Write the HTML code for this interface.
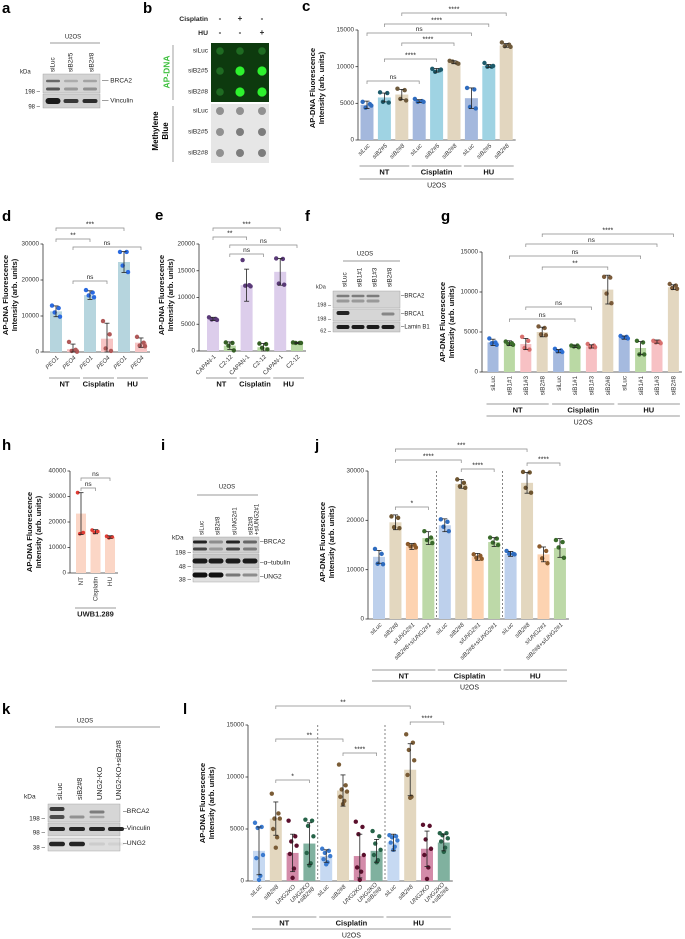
<!DOCTYPE html>
<html><head><meta charset="utf-8"><style>
html,body{margin:0;padding:0;background:#fff;}
svg{display:block;font-family:"Liberation Sans",Arial,sans-serif;}
</style></head><body>
<svg id="fig" width="685" height="939" viewBox="0 0 685 939" xmlns="http://www.w3.org/2000/svg"></svg>
<script>
// ---------- DATA ----------
const cCats=["siLuc","siB2#5","siB2#8","siLuc","siB2#5","siB2#8","siLuc","siB2#5","siB2#8"];
const cMeans=[4800,5800,6200,5300,9500,10600,5700,10100,12900];
const cSds=[500,600,700,200,250,200,1400,200,250];
const cDots=[[5200,4900,4400,4700],[6500,6400,5200,5100],[7000,6800,5600,5400],[5600,5300,5200,5200],[9700,9500,9300,9600],[10800,10500,10700,10400],[7100,6900,4500,4300],[10500,10000,10000,10100],[13300,13000,12800,12700]];
const cTicks=[0,5000,10000,15000];
const cSig=[[0,3,"ns"],[1,4,"****"],[2,5,"****"],[0,6,"ns"],[1,7,"****"],[2,8,"****"]];

const dCats=["PEO1","PEO4","PEO1","PEO4","PEO1","PEO4"];
const dMeans=[11300,800,15800,3700,25000,2600];
const dSds=[1500,1400,1200,4300,2900,1300];
const dDots=[[12900,12200,11000,9800],[2800,600,300,100],[17200,16500,15700,15200],[8600,4900,1000,300],[27800,27800,24000,22200],[4200,2600,1800,1600]];
const dTicks=[0,10000,20000,30000];
const dSig=[[0,4,"***"],[0,2,"**"],[1,5,"ns"],[1,3,"ns"]];

const eCats=["CAPAN-1","C2-12","CAPAN-1","C2-12","CAPAN-1","C2-12"];
const eMeans=[6000,1000,12300,700,14800,1500];
const eSds=[300,700,3000,700,2500,100];
const eDots=[[6300,6000,5900,5800],[1600,1500,1000,100],[17000,12300,12200,12100],[1400,1300,600,300],[17300,17200,12600,12400],[1600,1500,1500,1500]];
const eTicks=[0,5000,10000,15000,20000];
const eSig=[[0,4,"***"],[0,2,"**"],[1,5,"ns"],[1,3,"ns"]];

const gCats=["siLuc","siB1#1","siB1#3","siB2#8","siLuc","siB1#1","siB1#3","siB2#8","siLuc","siB1#1","siB1#3","siB2#8"];
const gMeans=[3700,3600,3500,5000,2600,3200,3200,10300,4300,3000,3800,10600];
const gSds=[400,300,700,600,200,150,200,1800,200,800,200,300];
const gDots=[[4200,3700,3600,3400],[3800,3600,3500,3400],[4400,3900,3000,2800],[5700,5500,4700,4600],[2900,2700,2600,2500],[3300,3300,3200,3100],[3500,3300,3100,3100],[11900,11800,9800,8600],[4500,4400,4300,4200],[3900,3700,2200,2200],[3900,3800,3700,3600],[11000,10800,10500,10400]];
const gTicks=[0,5000,10000,15000];
const gSig=[[3,11,"****"],[2,10,"ns"],[1,9,"ns"],[3,7,"**"],[2,6,"ns"],[1,5,"ns"]];

const hCats=["NT","Cisplatin","HU"];
const hMeans=[23300,16200,14100];
const hSds=[8200,800,500];
const hDots=[[31500,15800,15400],[16800,16300,15900],[14400,14100,13800]];
const hTicks=[0,10000,20000,30000,40000];
const hSig=[[0,2,"ns"],[0,1,"ns"]];

const jCats=["siLuc","siB2#8","siUNG2#1","siB2#8+siUNG2#1","siLuc","siB2#8","siUNG2#1","siB2#8+siUNG2#1","siLuc","siB2#8","siUNG2#1","siB2#8+siUNG2#1"];
const jMeans=[12600,19600,14700,16400,19000,27400,12600,15600,13200,27600,13100,14400];
const jSds=[1300,1500,600,1300,1300,900,700,900,500,2100,1500,1900];
const jDots=[[14200,13200,11200,11100],[20800,20500,18600,18400],[15200,15000,14700,14500],[17800,16500,16000,15400],[20200,19700,18700,17800],[28300,27600,26900,26600],[13100,12800,12400,12200],[16500,16300,15500,15000],[13800,13200,13200,13100],[29800,29700,26600,25600],[14700,13800,12300,11300],[16000,15600,14500,12400]];
const jTicks=[0,10000,20000,30000];
const jSig=[[1,9,"***"],[1,5,"****"],[5,7,"****"],[9,11,"****"],[1,3,"*"]];

const lCats=["siLuc","siB2#8","UNG2KO","UNG2KO|+siB2#8","siLuc","siB2#8","UNG2KO","UNG2KO|+siB2#8","siLuc","siB2#8","UNG2KO","UNG2KO|+siB2#8"];
const lMeans=[2900,6000,2700,3600,2400,8700,2400,2900,3700,10700,3100,3700];
const lSds=[2300,1600,1800,2000,600,1500,2100,1100,800,2500,1700,800];
const lDots=[[5600,5200,5100,2500,2200,500,100],[8400,6500,6000,6000,5000,4200,3200],[5800,4300,3800,3400,2600,1200,300],[5900,5800,5300,4300,2700,1700,1500],[3100,2900,2700,2400,2100,1800,1600],[11200,9200,8800,8600,8100,7700,7400],[5700,5200,4500,2500,1300,900,100],[4800,4300,3600,3000,2500,2000,1800],[4400,4300,4200,3900,3700,3300,3000],[14100,13300,12600,11600,10200,8100,8000],[5400,5300,4000,3100,2500,1300,200],[4600,4600,4400,4100,3800,3200,2800]];
const lTicks=[0,5000,10000,15000];
const lSig=[[1,9,"**"],[1,5,"**"],[5,7,"****"],[9,11,"****"],[1,3,"*"]];

// ---------- HELPERS ----------
const NS="http://www.w3.org/2000/svg";
const fig=document.getElementById('fig');
function mk(tag,attrs,name,parent){
  const el=document.createElementNS(NS,tag);
  for(const k in attrs) el.setAttribute(k,attrs[k]);
  
  
  (parent||fig).appendChild(el);
  return el;
}
function tx(x,y,s,name,o){
  o=o||{};
  const el=mk('text',{x:x,y:y,'font-size':o.fs||6.5,'text-anchor':o.anchor||'start','fill':o.fill||'#222','font-weight':o.bold?'bold':'normal','font-style':o.it?'italic':'normal','dominant-baseline':'middle'},name,o.parent);
  if(o.rot!==undefined) el.setAttribute('transform','rotate('+o.rot+' '+x+' '+y+')');
  el.textContent=s;
  return el;
}
function ln(x1,y1,x2,y2,name,o){
  o=o||{};
  return mk('line',{x1:x1,y1:y1,x2:x2,y2:y2,stroke:o.c||'#333','stroke-width':o.w||0.8,'stroke-dasharray':o.dash||'none'},name,o.parent);
}
function letter(x,y,s){ tx(x,y,s,'panel-label-'+s,{fs:15,bold:true,fill:'#000'}); }

const jit=[-3,2,-1,3,-2,1,0];
function chart(id,L,cats,means,sds,dots,ticks,sig,sigY,barCols,dotCols){
  const g=mk('g',{},'chart-'+id);
  const sy=v=>L.y0-(v/L.max)*(L.y0-L.yTop);
  const sx=i=>L.x0+i*L.step;
  const n=means.length;
  ln(L.ax,L.yTop,L.ax,L.y0,'y-axis-'+id,{parent:g});
  ln(L.ax,L.y0,sx(n-1)+L.bw/2+3,L.y0,'x-axis-'+id,{parent:g});
  ticks.forEach(t=>{
    ln(L.ax-2.5,sy(t),L.ax,sy(t),'y-tick-'+id,{parent:g});
    tx(L.ax-4,sy(t),String(t),'y-tick-label-'+id,{anchor:'end',fs:6.3,parent:g,fill:'#333'});
  });
  (L.dash||[]).forEach(k=>{
    const xx=(sx(k-1)+sx(k))/2;
    ln(xx,L.yTop,xx,L.y0,'group-separator-'+id,{dash:'2,2',w:0.6,parent:g});
  });
  means.forEach((m,i)=>{
    const c=i%barCols.length;
    mk('rect',{x:sx(i)-L.bw/2,y:sy(m),width:L.bw,height:L.y0-sy(m),fill:barCols[c]},'bar-'+id+'-'+i,g);
  });
  dots.forEach((arr,i)=>{
    const c=i%dotCols.length;
    arr.forEach((v,k)=>{
      mk('circle',{cx:sx(i)+jit[k%jit.length]*(L.bw/9),cy:sy(v),r:L.r||2.2,fill:dotCols[c]},'point-'+id+'-'+i,g);
    });
  });
  means.forEach((m,i)=>{
    const lo=Math.max(0,m-sds[i]),hi=m+sds[i];
    ln(sx(i),sy(hi),sx(i),sy(lo),'error-bar-'+id,{parent:g,c:'#222',w:0.8});
    ln(sx(i)-2.5,sy(hi),sx(i)+2.5,sy(hi),'error-cap-'+id,{parent:g,c:'#222',w:0.8});
    ln(sx(i)-2.5,sy(lo),sx(i)+2.5,sy(lo),'error-cap-'+id,{parent:g,c:'#222',w:0.8});
  });
  cats.forEach((s,i)=>{
    const parts=s.split('|');
    if(L.rot===-90){
      tx(sx(i)+0.5,L.y0+4,parts[0],'x-label-'+id,{anchor:'end',rot:-90,fs:6.3,parent:g,fill:'#333'});
    } else {
      const off=parts.length>1?-2.2:0;
      parts.forEach((p,k)=>{
        const x=sx(i)+2+off+k*4.4,y=L.y0+5+off+k*4.4;
        tx(x,y,p,'x-label-'+id,{anchor:'end',rot:-45,fs:6,it:L.it,parent:g,fill:'#333'});
      });
    }
  });
  sig.forEach((s,k)=>{
    const x1=sx(s[0]),x2=sx(s[1]),y=sigY[k];
    mk('path',{d:'M'+x1+' '+(y+3)+'V'+y+'H'+x2+'V'+(y+3),fill:'none',stroke:'#888','stroke-width':0.7},'significance-bracket-'+id,g);
    tx((x1+x2)/2,y-3.5,s[2],'significance-label-'+id,{anchor:'middle',fs:s[2]=='ns'?6.5:7,parent:g,fill:'#222'});
  });
  (L.groups||[]).forEach(gr=>{
    const x1=sx(gr[0])-L.bw/2-1,x2=sx(gr[1])+L.bw/2+1;
    ln(x1,L.gy,x2,L.gy,'group-line-'+id,{c:'#999',w:0.9,parent:g});
    tx((x1+x2)/2,L.gy+6.5,gr[2],'group-label-'+id,{anchor:'middle',fs:7.5,bold:true,parent:g,fill:'#111'});
  });
  if(L.cell){
    const x1=sx(0)-L.bw/2-1,x2=sx(n-1)+L.bw/2+1;
    ln(x1,L.cy,x2,L.cy,'cell-line-'+id,{c:'#999',w:0.9,parent:g});
    tx((x1+x2)/2,L.cy+6.5,L.cell,'cell-line-label-'+id,{anchor:'middle',fs:L.cellBold?7.5:7,bold:!!L.cellBold,parent:g,fill:'#222'});
  }
  tx(L.tx,L.tyc,'AP-DNA Fluorescence','y-axis-title-'+id,{anchor:'middle',rot:-90,fs:7.6,bold:true,parent:g,fill:'#111'});
  tx(L.tx+9,L.tyc,'Intensity (arb. units)','y-axis-title-'+id,{anchor:'middle',rot:-90,fs:7.6,bold:true,parent:g,fill:'#111'});
}

function strip(x,y,w,h,name,bg){ return mk('rect',{x:x,y:y,width:w,height:h,fill:bg||'#d9d9d9',stroke:'#999','stroke-width':0.4},name); }
function band(cx,cy,w,h,op,name){ mk('rect',{x:cx-w/2,y:cy-h/2,width:w,height:h,rx:h/2,fill:'#111',opacity:op},name); }

// ---------- PANEL A ----------
letter(2,9,'a');
tx(73,37,'U2OS','cell-line-label-a',{anchor:'middle',fs:6});
ln(50,43,100,43,'cell-line-a',{c:'#999',w:0.9});
[["siLuc",53],["siB2#5",71],["siB2#8",92]].forEach(l=>tx(l[1],72,l[0],'lane-label-a',{rot:-90,fs:6.3}));
tx(20,72,'kDa','kda-label-a',{fs:6});
strip(43,74,57,19,'blot-brca2-a','#d4d4d4');
strip(43,94,57,14,'blot-vinculin-a','#d0d0d0');
[[53,0.55],[71,0.2],[90,0.25]].forEach(b=>{band(b[0],81,14,2.5,b[1],'band-brca2');band(b[0],89,14,3,b[1]+0.1,'band-brca2');});
[[53,0.95,6],[71,0.8,4],[90,0.85,4]].forEach(b=>band(b[0],101,15,b[2],b[1],'band-vinculin'));
tx(40,92,'198 –','mw-marker',{anchor:'end',fs:6});
tx(40,107,'98 –','mw-marker',{anchor:'end',fs:6});
tx(102,81,'— BRCA2','protein-label',{fs:6.5});
tx(102,101,'— Vinculin','protein-label',{fs:6.5});

// ---------- PANEL B ----------
letter(143,9,'b');
tx(208,19,'Cisplatin','treatment-label-b',{anchor:'end',fs:6.8,bold:true});
tx(208,33,'HU','treatment-label-b',{anchor:'end',fs:6.8,bold:true});
[["-","+","-"],["-","-","+"]].forEach((r,ri)=>r.forEach((s,ci)=>tx([220,240,262][ci],ri?33:19,s,'sign-b',{anchor:'middle',fs:8,bold:true})));
mk('rect',{x:211,y:43,width:58,height:59,fill:'#0d3a0e'},'ap-dna-membrane');
mk('rect',{x:211,y:104,width:58,height:59,fill:'#e6e6e6'},'methylene-blue-membrane');
const bBright=[[0.35,0.4,0.35],[0.4,1,1],[0.4,1,1]];
[51,71,92].forEach((y,ri)=>[220,240,262].forEach((x,ci)=>{const v=bBright[ri][ci];mk('circle',{cx:x,cy:y,r:v>0.5?4.6:3.8,fill:v>0.5?'#2ef22e':'#1f6b22'},'ap-dna-dot');}));
[111,132,153].forEach((y,ri)=>[220,240,262].forEach((x,ci)=>mk('circle',{cx:x,cy:y,r:4,fill:(ri>0&&ci>0)?'#7d7d7d':'#919191'},'methylene-dot')));
["siLuc","siB2#5","siB2#8"].forEach((s,i)=>{tx(208,[51,71,92][i],s,'row-label-b',{anchor:'end',fs:6.5});tx(208,[111,132,153][i],s,'row-label-b',{anchor:'end',fs:6.5});});
ln(173,45,173,100,'divider-b',{c:'#888'});ln(173,106,173,162,'divider-b',{c:'#888'});
tx(167,72,'AP-DNA','ap-dna-title',{anchor:'middle',rot:-90,fs:8.5,bold:true,fill:'#3bbf3b'});
tx(156,131,'Methylene','methylene-title',{anchor:'middle',rot:-90,fs:8,bold:true,fill:'#000'});
tx(166,131,'Blue','methylene-title',{anchor:'middle',rot:-90,fs:8,bold:true,fill:'#000'});

// ---------- PANEL C ----------
letter(302,7,'c');
chart('c',{ax:358,y0:140,yTop:30,max:15000,x0:367,step:17.4,bw:13,rot:-45,it:true,gy:166,cy:179,cell:'U2OS',tx:313,tyc:88,
  groups:[[0,2,'NT'],[3,5,'Cisplatin'],[6,8,'HU']]},
  cCats,cMeans,cSds,cDots,cTicks,cSig,[81,59,43,33,24,13],
  ['#a4b8dd','#9fd3e3','#e2d6bf'],['#2f6cbf','#1d5a6b','#6e5a3c']);

// ---------- PANEL D ----------
letter(2,217,'d');
chart('d',{ax:43,y0:352,yTop:244,max:30000,x0:56,step:17,bw:12,rot:-45,it:true,gy:378,tx:6,tyc:295,
  groups:[[0,1,'NT'],[2,3,'Cisplatin'],[4,5,'HU']]},
  dCats,dMeans,dSds,dDots,dTicks,dSig,[228,239,247,281],
  ['#b6d5de','#f7c4c4'],['#2a6ae0','#b05858']);

// ---------- PANEL E ----------
letter(155,216,'e');
chart('e',{ax:199,y0:351,yTop:244,max:20000,x0:213,step:16.8,bw:12,rot:-45,it:false,gy:378,tx:162,tyc:295,
  groups:[[0,1,'NT'],[2,3,'Cisplatin'],[4,5,'HU']]},
  eCats,eMeans,eSds,eDots,eTicks,eSig,[228,237,245,254],
  ['#dccdeb','#b7d8a3'],['#5a3a78','#355f25']);

// ---------- PANEL F ----------
letter(305,217,'f');
tx(365,254,'U2OS','cell-line-label-f',{anchor:'middle',fs:6});
ln(343,261,400,261,'cell-line-f',{c:'#999',w:0.9});
[["siLuc",343],["siB1#1",358],["siB1#3",373],["siB2#8",388]].forEach(l=>tx(l[1]+2,287,l[0],'lane-label-f',{rot:-90,fs:6.3}));
tx(316,287,'kDa','kda-label-f',{fs:5.5});
strip(333,291,67,17,'blot-brca2-f','#d4d4d4');
strip(333,309,67,12,'blot-brca1-f','#d6d6d6');
strip(333,322,67,10,'blot-laminb1-f','#d2d2d2');
[343,358,373].forEach(x=>{band(x,296,13,2.5,0.45,'band-brca2');band(x,301,13,3,0.3,'band-brca2');});
band(343,313,13,4,0.9,'band-brca1');band(388,314,13,3,0.4,'band-brca1');
[343,358,373,388].forEach(x=>band(x,327,13,4,0.95,'band-laminb1'));
tx(331,305,'198 –','mw-marker',{anchor:'end',fs:5.5});
tx(331,319,'198 –','mw-marker',{anchor:'end',fs:5.5});
tx(331,331,'62 –','mw-marker',{anchor:'end',fs:5.5});
tx(401,296,'–BRCA2','protein-label',{fs:6});
tx(401,314,'–BRCA1','protein-label',{fs:6});
tx(401,327,'–Lamin B1','protein-label',{fs:6});

// ---------- PANEL G ----------
letter(441,217,'g');
chart('g',{ax:482,y0:372,yTop:252,max:15000,x0:493,step:16.4,bw:11,rot:-90,gy:404,cy:416,cell:'U2OS',tx:443,tyc:322,
  groups:[[0,3,'NT'],[4,7,'Cisplatin'],[8,11,'HU']]},
  gCats,gMeans,gSds,gDots,gTicks,gSig,[234,244,256,267,307,319],
  ['#a5badf','#bad9a4','#f7c1c4','#e3d7c0'],['#2d6fd3','#3a6b2b','#d8706e','#7b5b3a']);

// ---------- PANEL H ----------
letter(2,446,'h');
chart('h',{ax:70,y0:573,yTop:471,max:40000,x0:81,step:14.5,bw:10,rot:-90,cy:608,cell:'UWB1.289',cellBold:true,tx:30,tyc:532,r:1.9},
  hCats,hMeans,hSds,hDots,hTicks,hSig,[478,488],
  ['#fbd6c6'],['#e03c34']);

// ---------- PANEL I ----------
letter(161,446,'i');
tx(227,487,'U2OS','cell-line-label-i',{anchor:'middle',fs:6});
ln(197,495,258,495,'cell-line-i',{c:'#999',w:0.9});
[["siLuc",200],["siB2#8",216],["siUNG2#1",233],["siB2#8",249]].forEach(l=>tx(l[1]+2,535,l[0],'lane-label-i',{rot:-90,fs:6}));
tx(257,535,'+siUNG2#1','lane-label-i',{rot:-90,fs:6});
tx(172,538,'kDa','kda-label-i',{fs:6.5});
strip(193,537,66,16,'blot-brca2-i','#cfcfcf');
strip(193,554,66,14,'blot-tubulin-i','#c8c8c8');
strip(193,569,66,13,'blot-ung2-i','#e0e0e0');
[[200,0.9],[216,0.35],[233,0.9],[250,0.55]].forEach(b=>{band(b[0],542,14,3,b[1],'band-brca2');band(b[0],549,14,3,b[1]*0.8,'band-brca2');});
[200,216,233,250].forEach(x=>band(x,561,15,5,0.95,'band-tubulin'));
[[200,1,5],[216,1,5],[233,0.5,3],[250,0.4,3]].forEach(b=>band(b[0],575,15,b[2],b[1],'band-ung2'));
tx(191,553,'198 –','mw-marker',{anchor:'end',fs:6.3});
tx(191,567,'48 –','mw-marker',{anchor:'end',fs:6.3});
tx(191,580,'38 –','mw-marker',{anchor:'end',fs:6.3});
tx(260,542,'–BRCA2','protein-label',{fs:6.5});
tx(260,563,'–α–tubulin','protein-label',{fs:6.5});
tx(260,577,'–UNG2','protein-label',{fs:6.5});

// ---------- PANEL J ----------
letter(315,446,'j');
chart('j',{ax:368,y0:619,yTop:471,max:30000,x0:379,step:16.45,bw:12,rot:-45,it:true,gy:670,cy:681,cell:'U2OS',tx:323,tyc:542,dash:[4,8],
  groups:[[0,3,'NT'],[4,7,'Cisplatin'],[8,11,'HU']]},
  jCats,jMeans,jSds,jDots,jTicks,jSig,[449,460,469,463,507],
  ['#bdd0ec','#e3d7bf','#fdd3b1','#bdd9a8'],['#2f6cbf','#6e5530','#8c5a2a','#3a6b2b']);

// ---------- PANEL K ----------
letter(2,710,'k');
tx(85,721,'U2OS','cell-line-label-k',{anchor:'middle',fs:6});
ln(55,727,160,727,'cell-line-k',{c:'#999',w:0.9});
[["siLuc",57],["siB2#8",77],["UNG2-KO",97],["UNG2-KO+siB2#8",116]].forEach(l=>tx(l[1]+3,800,l[0],'lane-label-k',{rot:-90,fs:7.3}));
tx(24,797,'kDa','kda-label-k',{fs:6.5});
strip(48,804,72,18,'blot-brca2-k','#d6d6d6');
strip(48,823,72,13,'blot-vinculin-k','#d0d0d0');
strip(48,838,72,13,'blot-ung2-k','#dddddd');
band(57,809,15,4,0.8,'band-brca2');band(57,817,15,4,0.7,'band-brca2');band(77,817,15,3,0.35,'band-brca2');band(97,812,15,3,0.45,'band-brca2');band(97,817,15,2.5,0.25,'band-brca2');
[57,77,97,116].forEach(x=>band(x,829,16,4,0.9,'band-vinculin'));
band(57,844,16,4.5,0.9,'band-ung2');band(77,844,16,4.5,0.9,'band-ung2');band(97,844,16,3,0.08,'band-ung2');band(116,844,16,3,0.06,'band-ung2');
tx(45,819,'198 –','mw-marker',{anchor:'end',fs:6.3});
tx(45,833,'98 –','mw-marker',{anchor:'end',fs:6.3});
tx(45,848,'38 –','mw-marker',{anchor:'end',fs:6.3});
tx(123,811,'–BRCA2','protein-label',{fs:6.8});
tx(123,828,'–Vinculin','protein-label',{fs:6.8});
tx(123,843,'–UNG2','protein-label',{fs:6.8});

// ---------- PANEL L ----------
letter(183,710,'l');
chart('l',{ax:248,y0:881,yTop:725,max:15000,x0:259,step:16.8,bw:12,rot:-45,it:true,gy:917,cy:929,cell:'U2OS',tx:203,tyc:803,dash:[4,8],
  groups:[[0,3,'NT'],[4,7,'Cisplatin'],[8,11,'HU']]},
  lCats,lMeans,lSds,lDots,lTicks,lSig,[706,739,753,722,780],
  ['#c6d9f2','#e3d7bf','#d38ba9','#80b19f'],['#3b7bd0','#7a5c36','#5a0f2c','#266348']);
</script>
</body></html>
